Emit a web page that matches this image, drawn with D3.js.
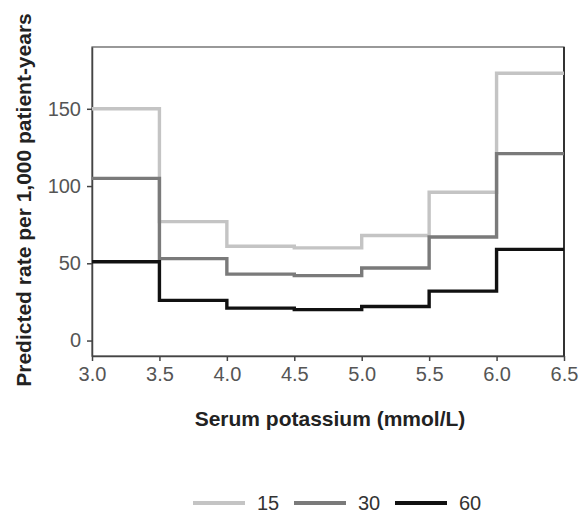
<!DOCTYPE html>
<html>
<head>
<meta charset="utf-8">
<script src="https://cdn.jsdelivr.net/npm/d3@7"></script>
<style>
  body { margin: 0; background: #fff; }
  text { font-family: "Liberation Sans", Arial, sans-serif; }
</style>
</head>
<body>
<svg id="chart" width="582" height="513"></svg>
<script>
// bin edges for serum potassium (mmol/L)
var edges = [3.0, 3.5, 4.0, 4.5, 5.0, 5.5, 6.0, 6.5];
var xTicks = [3.0, 3.5, 4.0, 4.5, 5.0, 5.5, 6.0, 6.5];
var yTicks = [0, 50, 100, 150];

// predicted rate per bin, one array per series
var rate15 = [150, 77, 61, 60, 68, 96, 173];
var rate30 = [105, 53, 43, 42, 47, 67, 121];
var rate60 = [51, 26, 21, 20, 22, 32, 59];

var seriesNames = ['15', '30', '60'];
var seriesColors = ['#c4c4c4', '#7a7a7a', '#111111'];
var seriesValues = [rate15, rate30, rate60];

var svg = d3.select('#chart');
var margin = {left: 92, top: 47, right: 18, bottom: 157};
var W = 582 - margin.left - margin.right,
    H = 513 - margin.top - margin.bottom;

var x = d3.scaleLinear().domain([3.0, 6.5]).range([0, W]);
var y = d3.scaleLinear().domain([-10, 190]).range([H, 0]);

var g = svg.append('g')
    .attr('transform', 'translate(' + margin.left + ',' + margin.top + ')');

// frame
g.append('rect')
    .attr('x', 0).attr('y', 0)
    .attr('width', W).attr('height', H)
    .attr('fill', 'none')
    .attr('stroke', '#555')
    .attr('stroke-width', 1.2);
g.append('line')
    .attr('x1', W).attr('x2', W).attr('y1', 0).attr('y2', H)
    .attr('stroke', '#333').attr('stroke-width', 2);

var xAxis = g.append('g')
    .attr('transform', 'translate(0,' + H + ')')
    .call(d3.axisBottom(x).tickValues(xTicks).tickFormat(d3.format('.1f'))
        .tickSize(5).tickSizeOuter(0).tickPadding(6));
var yAxis = g.append('g')
    .call(d3.axisLeft(y).tickValues(yTicks).tickSize(5).tickSizeOuter(0).tickPadding(6));

[xAxis, yAxis].forEach(function(a) {
    a.select('.domain').attr('stroke', '#444').attr('stroke-width', 1.5);
    a.selectAll('.tick line').attr('stroke', '#444').attr('stroke-width', 1.5);
    a.selectAll('.tick text')
        .attr('fill', '#555')
        .style('font-size', '20px');
});

var line = d3.line()
    .x(function(d) { return x(d.k); })
    .y(function(d) { return y(d.v); })
    .curve(d3.curveStepAfter);

seriesValues.forEach(function(vals, i) {
    var pts = vals.map(function(v, j) { return {k: edges[j], v: v}; });
    pts.push({k: edges[edges.length - 1], v: vals[vals.length - 1]});
    g.append('path')
        .datum(pts)
        .attr('d', line)
        .attr('fill', 'none')
        .attr('stroke', seriesColors[i])
        .attr('stroke-width', 3.4);
});

// axis titles
svg.append('text')
    .attr('transform', 'translate(31,200) rotate(-90)')
    .attr('text-anchor', 'middle')
    .style('font-size', '21px')
    .style('font-weight', 'bold')
    .attr('fill', '#222')
    .text('Predicted rate per 1,000 patient-years');

svg.append('text')
    .attr('x', margin.left + W / 2 + 2)
    .attr('y', 426)
    .attr('text-anchor', 'middle')
    .style('font-size', '21px')
    .style('font-weight', 'bold')
    .attr('fill', '#222')
    .text('Serum potassium (mmol/L)');

// legend
var legend = svg.append('g').attr('transform', 'translate(193,503)');
seriesNames.forEach(function(name, i) {
    var lg = legend.append('g').attr('transform', 'translate(' + (i * 101) + ',0)');
    lg.append('line')
        .attr('x1', 0).attr('x2', 52)
        .attr('stroke', seriesColors[i])
        .attr('stroke-width', 4);
    lg.append('text')
        .attr('x', 64)
        .attr('dy', '0.36em')
        .style('font-size', '20px')
        .attr('fill', '#333')
        .text(name);
});
</script>
</body>
</html>
